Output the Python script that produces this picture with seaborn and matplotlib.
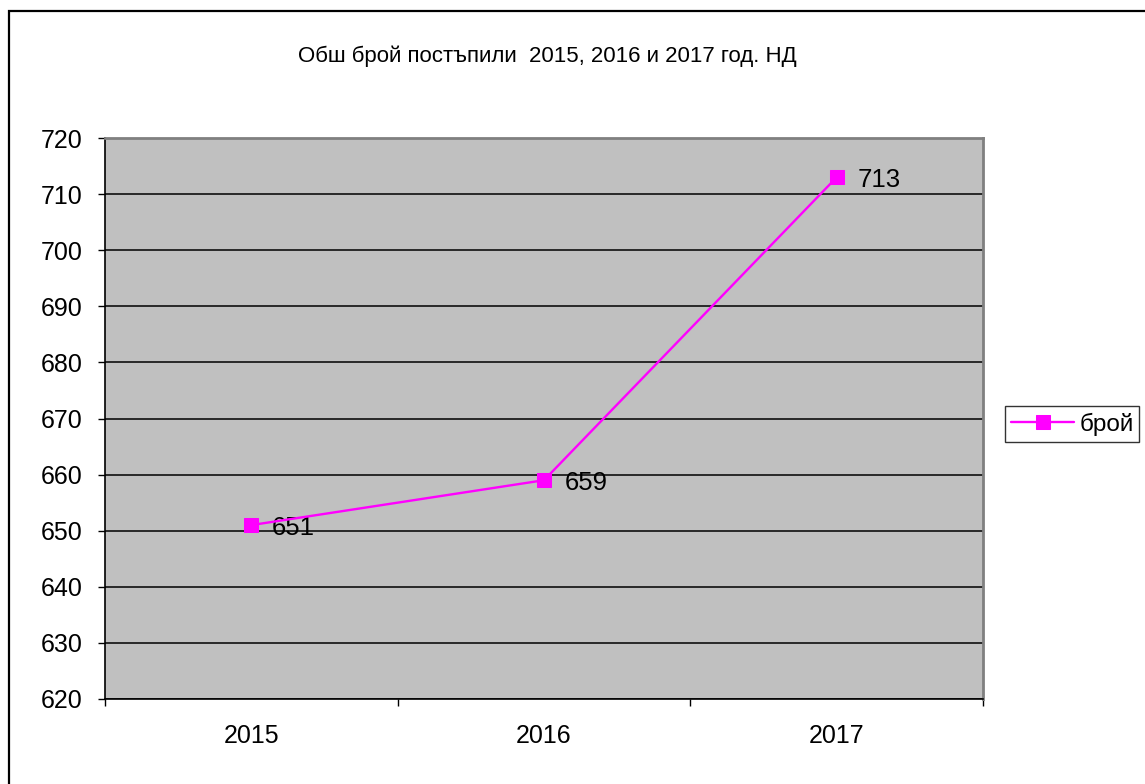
import numpy as np
import pandas as pd
import seaborn as sns
import matplotlib.pyplot as plt
from matplotlib.patches import Rectangle

# data
years = ["2015", "2016", "2017"]
counts = [651, 659, 713]
series_name = "брой"
title = "Обш брой постъпили  2015, 2016 и 2017 год. НД"
yticks = [620, 630, 640, 650, 660, 670, 680, 690, 700, 710, 720]

df = pd.DataFrame({"year": years, "count": counts})

sns.set_theme(style="white")
plt.rcParams['font.family'] = ['Liberation Sans', 'DejaVu Sans']
plt.rcParams['text.color'] = 'black'
plt.rcParams['xtick.color'] = 'black'
plt.rcParams['ytick.color'] = 'black'

fig = plt.figure(figsize=(11.45, 7.84), dpi=100)
ax = fig.add_axes([105/1145, 1 - 699/784, 878/1145, 561/784])
ax.set_facecolor("#C0C0C0")

# outer chart border (only top and left visible in the crop)
fig.patches.append(Rectangle((8.5/1145, -0.1), 1.2, 1 - 10.5/784 + 0.1,
                             transform=fig.transFigure, fill=False,
                             edgecolor="black", linewidth=1.6))

sns.lineplot(data=df, x="year", y="count", ax=ax, color="#FF00FF",
             marker="s", markersize=10, markeredgecolor="#FF00FF",
             linewidth=1.7, label=series_name, zorder=5)

for i, v in enumerate(counts):
    ax.annotate(str(v), (i, v), xytext=(15, -2), textcoords="offset points",
                ha="left", va="center", fontsize=18.5, color="black")

ax.set_xlim(-0.5, 2.5)
ax.set_ylim(620, 720)
ax.set_yticks(yticks)
ax.yaxis.grid(True, color="black", linewidth=1.1)
ax.set_axisbelow(True)

ax.set_xticks(range(len(years)))
ax.set_xticklabels(years)
ax.set_xticks(np.arange(-0.5, len(years), 1.0), minor=True)
ax.tick_params(axis="x", which="major", length=0, pad=18, labelsize=18)
ax.tick_params(axis="x", which="minor", length=5, width=1, color="black",
               direction="out", bottom=True)
ax.tick_params(axis="y", length=5, width=1, color="black", direction="out",
               left=True, pad=11, labelsize=18)
ax.set_xlabel("")
ax.set_ylabel("")

for s in ["left", "bottom"]:
    ax.spines[s].set_color("black")
    ax.spines[s].set_linewidth(1.2)
for s in ["top", "right"]:
    ax.spines[s].set_color("#808080")
    ax.spines[s].set_linewidth(2)

fig.text(547/1145, 1 - 56/784, title, ha="center", va="center", fontsize=16)

leg = ax.legend(loc="center left", bbox_to_anchor=(1005/1145, 1 - 424/784),
                bbox_transform=fig.transFigure, frameon=True, fontsize=17.5,
                fancybox=False, handlelength=2.6, handletextpad=0.2,
                borderpad=0.25, borderaxespad=0)
leg.get_frame().set_edgecolor("black")
leg.get_frame().set_linewidth(1)

fig.savefig("out.png", dpi=100)
